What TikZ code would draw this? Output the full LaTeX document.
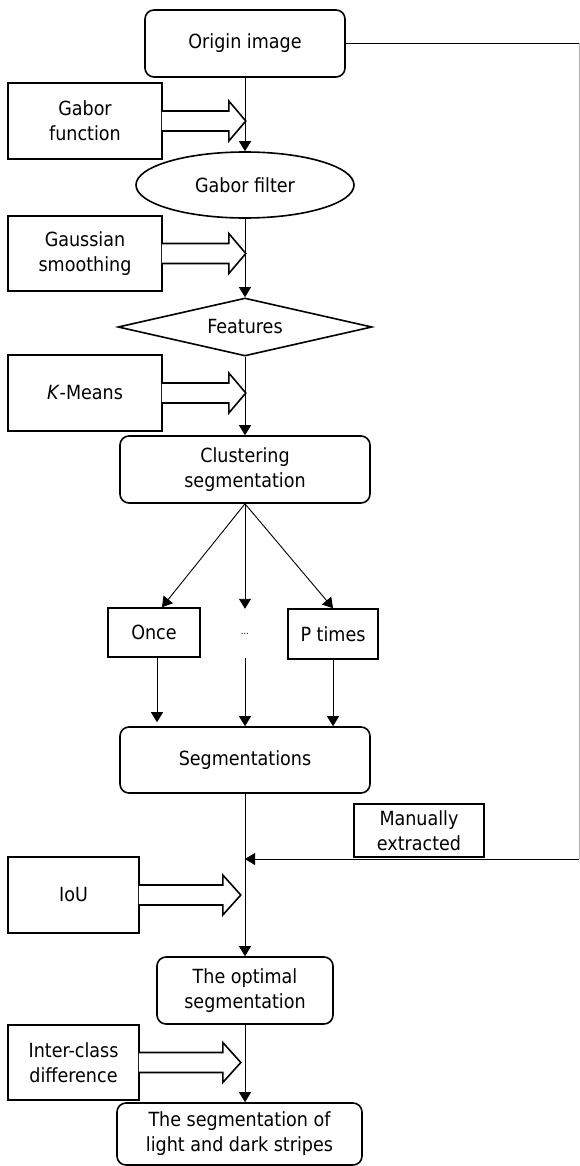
\documentclass[tikz,border=0pt]{standalone}
\usepackage{fontspec}
\setmainfont{DejaVu Sans Condensed}
\usetikzlibrary{shapes.geometric, arrows.meta, calc}

\tikzset{
  box/.style={draw, line width=1.6pt, align=center, inner sep=0pt},
  roundbox/.style={box, rounded corners=9pt},
  flow/.style={line width=0.9pt, -{Triangle[width=12pt,length=10pt]}},
  blockarrow/.style={line width=1.6pt, fill=white},
}
% hollow arrow out of a side box: #1 box, #2 shaft length, #3 head length
\newcommand{\inarrow}[3]{%
  \draw[blockarrow] ([xshift=-1pt]#1.east) ++(0,-10) -- ++(#2,0) -- ++(0,-10)
    -- ++(#3,20) -- ++(-#3,20) -- ++(0,-10) -- ++(-#2,0);}

\begin{document}
\begin{tikzpicture}[x=1pt, y=-1pt, font=\fontsize{19.5}{25}\selectfont]
  \useasboundingbox (0,0) rectangle (579,1166);

  % main column
  \node (origin) [roundbox, minimum width=200pt, minimum height=67pt] at (245,43.5) {Origin image};
  \node (gabor) [box, ellipse, minimum width=218pt, minimum height=66pt] at (245,185) {Gabor filter};
  \node (feat) [box, diamond, aspect=4.4, minimum width=254pt, minimum height=58pt] at (245,327) {Features};
  \node (clust) [roundbox, minimum width=250pt, minimum height=67pt] at (245,469.5) {Clustering\\segmentation};
  \node (once) [box, minimum width=92pt, minimum height=49pt] at (154,632.5) {Once};
  \node (dots) [inner sep=0pt, minimum width=40pt, minimum height=49pt, font=\fontsize{9}{10}\selectfont] at (245,633.5) {\ldots};
  \node (ptimes) [box, minimum width=90pt, minimum height=50pt] at (333,634) {P times};
  \node (seg) [roundbox, minimum width=250pt, minimum height=66pt] at (245,760) {Segmentations};
  \node (manual) [box, minimum width=130pt, minimum height=53pt] at (419,830.5) {Manually\\extracted};
  \node (opt) [roundbox, minimum width=176pt, minimum height=67pt] at (245,990.5) {The optimal\\segmentation};
  \node (final) [roundbox, minimum width=245pt, minimum height=62pt] at (239.5,1134) {The segmentation of\\light and dark stripes};

  \draw[flow] (origin) -- (gabor);
  \draw[flow] (gabor) -- (feat);
  \draw[flow] (feat) -- (clust);
  \draw[flow] (clust.south) -- ([xshift=8pt]once.north);
  \draw[flow] (clust.south) -- (dots.north);
  \draw[flow] (clust.south) -- (ptimes.north);
  \draw[flow, shorten >=4pt] ([xshift=3pt]once.south) -- ($(seg.north -| once.south)+(3,0)$);
  \draw[flow] (dots.south) -- (seg.north);
  \draw[flow] (ptimes.south) -- (ptimes.south |- seg.north);
  \draw[flow] (seg) -- (opt);
  \draw[flow] (opt.south) -- (opt.south |- final.north);

  % ground truth line round the right side
  \coordinate (tr) at (579,43.5);
  \coordinate (br) at (579,859);
  \coordinate (jn) at (245,859);
  \draw[line width=0.9pt] (origin.east) -- (tr);
  \draw[line width=0.8pt, black!30] (tr) -- (br);
  \draw[flow] (br) -- (jn);

  % side inputs
  \node (gfun) [box, minimum width=154pt, minimum height=76pt] at (85,121) {Gabor\\function};
  \node (gsmooth) [box, minimum width=154pt, minimum height=75pt] at (85,253.5) {Gaussian\\smoothing};
  \node (kmeans) [box, minimum width=154pt, minimum height=76pt] at (85,393) {\textit{K}-Means};
  \node (iou) [box, minimum width=131pt, minimum height=76pt] at (73.5,895) {IoU};
  \node (inter) [box, minimum width=131pt, minimum height=75pt] at (73.5,1062.5) {Inter-class\\difference};
  \inarrow{gfun}{67}{17}
  \inarrow{gsmooth}{67}{17}
  \inarrow{kmeans}{67}{17}
  \inarrow{iou}{84}{18}
  \inarrow{inter}{84}{18}
\end{tikzpicture}
\end{document}
